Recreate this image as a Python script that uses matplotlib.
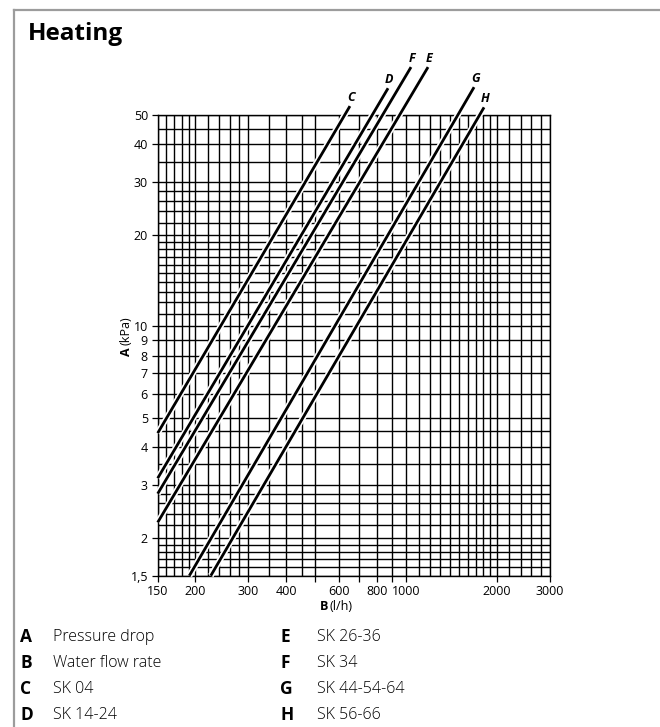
import matplotlib
matplotlib.use('Agg')
import matplotlib.pyplot as plt
import matplotlib.patheffects as pe
from matplotlib.ticker import FixedLocator, NullFormatter
from matplotlib.lines import Line2D

plt.rcParams['font.family'] = ['Open Sans', 'DejaVu Sans']

# curves: start and end points (flow l/h, pressure drop kPa)
curve_labels = ['C', 'D', 'F', 'E', 'G', 'H']
flow_start = [150, 150, 150, 150, 191, 225]
drop_start = [4.44, 3.15, 2.80, 2.25, 1.5, 1.5]
flow_end = [651, 871, 1038, 1182, 1680, 1813]
drop_end = [53.5, 61.3, 72, 72, 61.8, 53]

x_ticks = [150, 200, 300, 400, 500, 600, 700, 800, 900, 1000, 2000, 3000]
x_tick_labels = ['150', '200', '300', '400', '', '600', '', '800', '', '1000', '2000', '3000']
y_ticks = [1.5, 2, 3, 4, 5, 6, 7, 8, 9, 10, 20, 30, 40, 50]
y_tick_labels = ['1,5', '2', '3', '4', '5', '6', '7', '8', '9', '10', '20', '30', '40', '50']

x_grid = (list(range(150, 200, 10)) + list(range(200, 300, 20)) + list(range(300, 500, 50))
          + list(range(500, 2000, 100)) + list(range(2000, 3001, 200)))
y_grid = ([1.5, 1.6, 1.7, 1.8, 1.9] + [2, 2.2, 2.4, 2.6, 2.8] + [3, 3.5, 4, 4.5]
          + list(range(5, 20)) + list(range(20, 30, 2)) + list(range(30, 51, 5)))

legend_keys = ['A', 'B', 'C', 'D', 'E', 'F', 'G', 'H']
legend_text = ['Pressure drop', 'Water flow rate', 'SK 04', 'SK 14-24',
               'SK 26-36', 'SK 34', 'SK 44-54-64', 'SK 56-66']

W, H = 660, 727
fig = plt.figure(figsize=(W / 100, H / 100), dpi=100)


def fx(px):
    return px / W


def fy(py):
    return 1 - py / H


# outer frame (only top and left visible)
fig.add_artist(Line2D([fx(13.5), 1.0], [fy(9.5), fy(9.5)], color='#9c9c9c', lw=1.6))
fig.add_artist(Line2D([fx(13.5), fx(13.5)], [fy(9.5), 0.0], color='#9c9c9c', lw=1.6))

fig.text(fx(28), fy(34), 'Heating', fontsize=17.5, fontweight='bold', va='center', ha='left')

ax = fig.add_axes([fx(157.7), fy(575.7), fx(550 - 157.7), (575.7 - 115) / H])
ax.set_xscale('log')
ax.set_yscale('log')
ax.set_xlim(150, 3000)
ax.set_ylim(1.5, 50)

ax.xaxis.set_major_locator(FixedLocator(x_ticks))
ax.set_xticklabels(x_tick_labels)
ax.yaxis.set_major_locator(FixedLocator(y_ticks))
ax.set_yticklabels(y_tick_labels)
ax.xaxis.set_minor_locator(FixedLocator(x_grid))
ax.yaxis.set_minor_locator(FixedLocator(y_grid))
ax.xaxis.set_minor_formatter(NullFormatter())
ax.yaxis.set_minor_formatter(NullFormatter())
ax.tick_params(which='major', direction='out', length=4.5, width=0.9, labelsize=9, pad=2.5)
ax.tick_params(which='minor', length=0)
ax.grid(True, which='both', color='black', lw=1.0)
ax.set_axisbelow(True)
for s in ax.spines.values():
    s.set_linewidth(1.0)

for i, lab in enumerate(curve_labels):
    ax.plot([flow_start[i], flow_end[i]], [drop_start[i], drop_end[i]], color='black', lw=2.0,
            solid_capstyle='butt', clip_on=False, zorder=5,
            path_effects=[pe.Stroke(linewidth=4.4, foreground='white'), pe.Normal()])
    ax.annotate(lab, (flow_end[i], drop_end[i]), xytext=(1, 9), textcoords='offset pixels',
                ha='center', va='center', fontsize=9, fontweight='bold', fontstyle='italic',
                annotation_clip=False)

# axis labels
fig.text(fx(320), fy(607), 'B', fontsize=9, fontweight='bold', ha='left', va='center')
fig.text(fx(330), fy(607), '(l/h)', fontsize=9, ha='left', va='center')
fig.text(fx(126), fy(356), 'A', fontsize=9, fontweight='bold', rotation=90,
         rotation_mode='anchor', ha='left', va='center')
fig.text(fx(126), fy(345), '(kPa)', fontsize=9, rotation=90,
         rotation_mode='anchor', ha='left', va='center')

# legend
for i, (k, t) in enumerate(zip(legend_keys, legend_text)):
    col, row = divmod(i, 4)
    y = 637 + row * 26
    xk = 20 if col == 0 else 280
    xt = 53 if col == 0 else 317
    fig.text(fx(xk), fy(y), k, fontsize=12.5, fontweight='bold', ha='left', va='center')
    fig.text(fx(xt), fy(y), t, fontsize=11.5, fontweight='light', ha='left', va='center')

fig.savefig('out.png', dpi=100)
